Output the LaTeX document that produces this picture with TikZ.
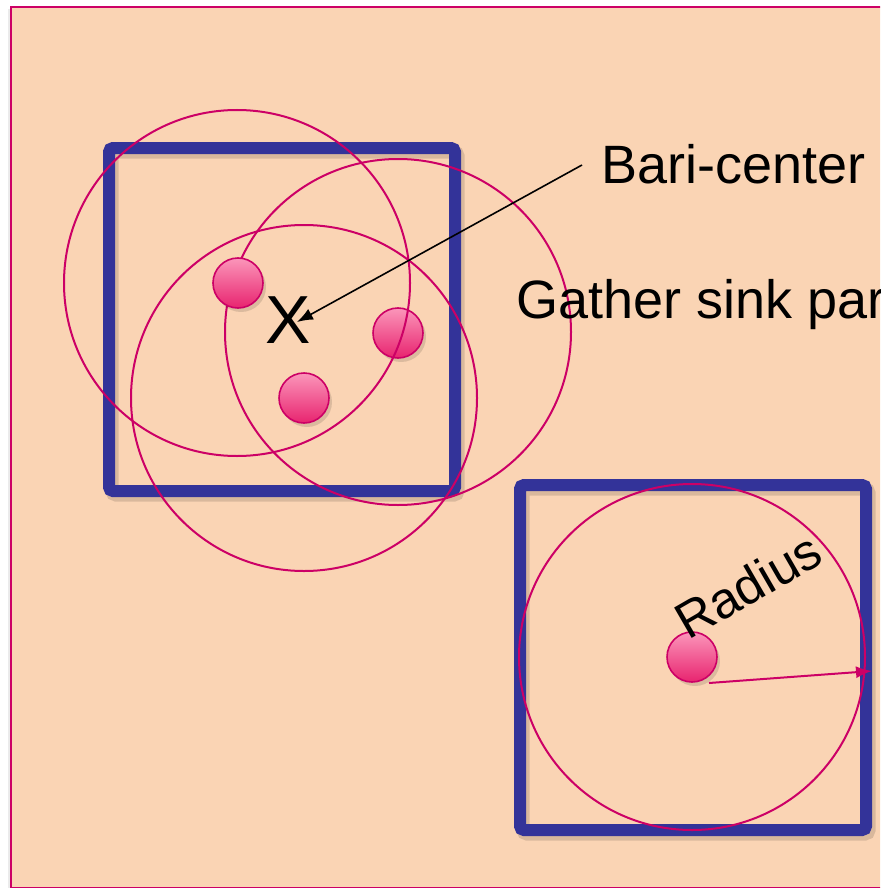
\documentclass[tikz,border=0pt]{standalone}
\usepackage{fontspec}
\setmainfont{Liberation Sans}
\usetikzlibrary{arrows.meta}
\definecolor{bg}{HTML}{FAD4B4}
\definecolor{mag}{HTML}{CC0066}
\definecolor{navy}{HTML}{333399}
\definecolor{dotlight}{HTML}{FB96BA}
\definecolor{dotdark}{HTML}{E8246F}
\begin{document}
\begin{tikzpicture}[x=0.5pt,y=-0.5pt,
  frame/.style={draw=navy,line width=6pt,rounded corners=2pt},
  frameshadow/.style={draw=black,opacity=0.13,line width=6.5pt,rounded corners=2pt},
  ring/.style={circle,draw=mag,line width=1pt,minimum size=173pt,inner sep=0pt},
  sink/.style={circle,draw=mag,line width=0.8pt,minimum size=25pt,inner sep=0pt,top color=dotlight,bottom color=dotdark},
  sinkshadow/.style={circle,fill=black,opacity=0.12,minimum size=25pt,inner sep=0pt},
  lbl/.style={inner sep=0pt,font=\fontsize{27}{31}\selectfont,anchor=base west},
  pointer/.style={draw=black,line width=0.8pt,-{Latex[length=8pt,width=6pt]}},
  radarrow/.style={draw=mag,line width=1pt,-{Latex[length=8pt,width=6pt]}}]
\useasboundingbox (0,0) rectangle (880,888);
\clip (0,0) rectangle (880,888);
\fill[white] (0,0) rectangle (880,888);
\fill[black,opacity=0.08] (8,9) rectangle (11,888);
\draw[mag,fill=bg,line width=1pt] (11,7) rectangle (900,887.5);
% frames
\draw[frameshadow] (112,152) rectangle (458,495);
\draw[frame] (109,148) rectangle (455,491);
\draw[frameshadow] (523,489) rectangle (869,834);
\draw[frame] (520,485) rectangle (866,830);
% rings and sinks
\node[ring] (ringB) at (398,332) {};
\node[ring] (ringC) at (304,398) {};
\node[sinkshadow] at (401,337) {};
\node[sinkshadow] at (307,402) {};
\node[sinkshadow] at (241,287) {};
\node[sink] (s2) at (398,333) {};
\node[sink] (s3) at (304,398) {};
\node[sink] (s1) at (238,283) {};
\node[ring] (ringA) at (237,283) {};
\node[ring] (ringD) at (692,657) {};
\node[sinkshadow] at (695,661) {};
\node[sink] (s4) at (692,657) {};
% labels
\node[lbl] (bari) at (601,183) {Bari-center};
\node[lbl] (gather) at (516,318) {Gather sink par};
\node[inner sep=0pt,font=\fontsize{34}{38}\selectfont] (x) at (288,320) {X};
\node[lbl,font=\fontsize{25.5}{29}\selectfont,rotate=30] (radius) at (688,641) {Radius};
% connectors
\coordinate (bariend) at (582,165);
\coordinate (xtip) at (297,322);
\draw[pointer] (bariend) -- (xtip);
\coordinate (rstart) at (709,683);
\coordinate (rend) at (872,671);
\draw[radarrow] (rstart) -- (rend);
\end{tikzpicture}
\end{document}
